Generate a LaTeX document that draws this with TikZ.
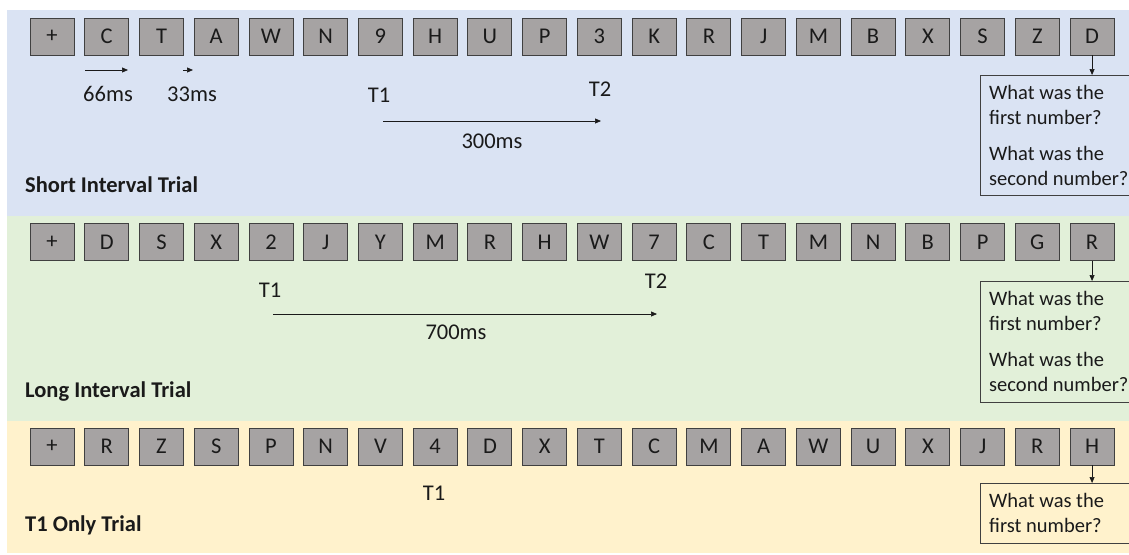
\documentclass[tikz,border=0pt]{standalone}
\usepackage{fontspec}
\setmainfont{Carlito}
\usetikzlibrary{arrows.meta}
\definecolor{shortbg}{HTML}{DAE3F3}
\definecolor{longbg}{HTML}{E2F0D9}
\definecolor{onlybg}{HTML}{FFF2CC}
\definecolor{itemfill}{HTML}{A6A3A3}
\definecolor{itemline}{HTML}{404040}
\definecolor{ink}{HTML}{1A1A1A}
\begin{document}
\begin{tikzpicture}[x=1pt,y=-1pt,
  txt/.style={font=\fontsize{22.5}{27}\selectfont, text=ink, inner sep=0pt},
  item/.style={txt, draw=itemline, fill=itemfill, line width=0.9pt,
    minimum width=44pt, minimum height=37pt},
  qbox/.style={draw=itemline, line width=0.8pt, anchor=north west,
    minimum width=148.5pt, inner sep=0pt},
  qtext/.style={txt, anchor=west, align=left, font=\fontsize{20.5}{25}\selectfont},
  trial/.style={txt, anchor=west, font=\bfseries\fontsize{22.5}{27}\selectfont},
  tarrow/.style={-{Triangle[length=6pt,width=5pt]}, line width=0.7pt, draw=ink},
  cue/.style={-{Triangle[length=6pt,width=5pt]}, line width=0.7pt, draw=ink},
]
\useasboundingbox (0,0) rectangle (1129,554);

% trial panels
\fill[shortbg] (7,10) rectangle (1129,215.5);
\fill[longbg] (7,215.5) rectangle (1129,420.5);
\fill[onlybg] (7,420.5) rectangle (1129,553);

% item streams
\foreach \l [count=\i from 0] in {+,C,T,A,W,N,9,H,U,P,3,K,R,J,M,B,X,S,Z,D}
  \node[item] (a\i) at ({52+54.74*\i},36.5) {\l};
\foreach \l [count=\i from 0] in {+,D,S,X,2,J,Y,M,R,H,W,7,C,T,M,N,B,P,G,R}
  \node[item] (b\i) at ({52+54.74*\i},242) {\l};
\foreach \l [count=\i from 0] in {+,R,Z,S,P,N,V,4,D,X,T,C,M,A,W,U,X,J,R,H}
  \node[item] (c\i) at ({52+54.74*\i},446.5) {\l};

% questions
\node[qbox, minimum height=120pt] (qa) at (980,75) {};
\node[qtext] (qat) at ([xshift=9pt]qa.west)
  {What was the\\first number?\\[11pt]What was the\\second number?};
\node[qbox, minimum height=121pt] (qb) at (980,281) {};
\node[qtext] (qbt) at ([xshift=9pt]qb.west)
  {What was the\\first number?\\[11pt]What was the\\second number?};
\node[qbox, minimum height=60pt] (qc) at (980,483) {};
\node[qtext] (qct) at ([xshift=9pt]qc.west)
  {What was the\\first number?};

\draw[cue] (a19.south) -- (a19.south |- qa.north);
\draw[cue] (b19.south) -- (b19.south |- qb.north);
\draw[cue] (c19.south) -- (c19.south |- qc.north);

% short interval trial
\coordinate (s1) at (85,70);   \coordinate (s2) at (128,70);
\coordinate (s3) at (183,70);  \coordinate (s4) at (193,70);
\draw[tarrow] (s1) -- (s2);
\draw[tarrow] (s3) -- (s4);
\node[txt] (l66) at (108,94) {66ms};
\node[txt] (l33) at (192,94) {33ms};
\node[txt] (at1) at (379,95) {T1};
\node[txt] (at2) at (600,89) {T2};
\coordinate (ta1) at (383,121); \coordinate (ta2) at (601,121);
\draw[tarrow] (ta1) -- (ta2);
\node[txt] (l300) at (492,141) {300ms};
\node[trial] (ts) at (25,185) {Short Interval Trial};

% long interval trial
\node[txt] (bt1) at (270,290) {T1};
\node[txt] (bt2) at (656,281) {T2};
\coordinate (tb1) at (273,314); \coordinate (tb2) at (657,314);
\draw[tarrow] (tb1) -- (tb2);
\node[txt] (l700) at (456,332) {700ms};
\node[trial] (tl) at (25,392) {Long Interval Trial};

% T1 only trial
\node[txt] (ct1) at (434,493) {T1};
\node[trial] (to) at (25,525) {T1 Only Trial};
\end{tikzpicture}
\end{document}
